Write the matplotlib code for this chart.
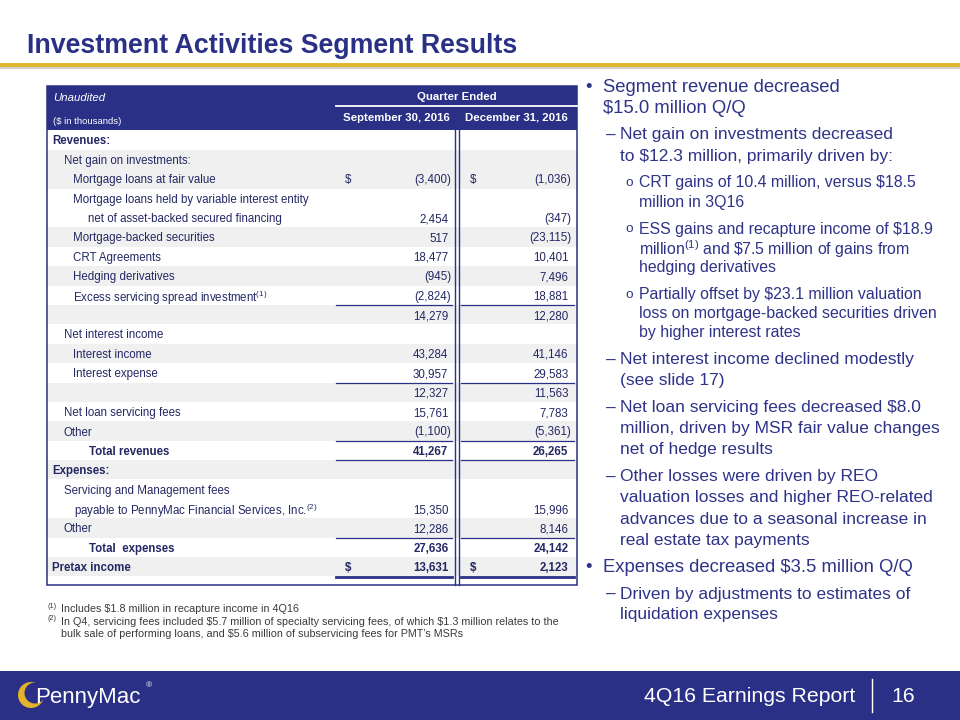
import matplotlib
matplotlib.use("Agg")
import matplotlib.pyplot as plt
from matplotlib.patches import Rectangle, Circle

plt.rcParams['font.family'] = 'Liberation Sans'
plt.rcParams['mathtext.fontset'] = 'custom'
plt.rcParams['mathtext.rm'] = 'Liberation Sans'
plt.rcParams['mathtext.it'] = 'Liberation Sans:italic'
plt.rcParams['mathtext.bf'] = 'Liberation Sans:bold'

NAVY = '#2B3087'
GOLD = '#E2B42B'
TBL_TXT = '#232863'
RIGHT_TXT = '#2E3388'
BAND = '#F0F0F0'
NOTE = '#3A3A3A'

# ---- data ----
title = "Investment Activities Segment Results"
col_headers = ["September 30, 2016", "December 31, 2016"]

row_labels = [
    "Revenues:",
    "Net gain on investments:",
    "Mortgage loans at fair value",
    "Mortgage loans held by variable interest entity",
    "net of asset-backed secured financing",
    "Mortgage-backed securities",
    "CRT Agreements",
    "Hedging derivatives",
    r"Excess servicing spread investment$^{(1)}$",
    "",
    "Net interest income",
    "Interest income",
    "Interest expense",
    "",
    "Net loan servicing fees",
    "Other",
    "Total revenues",
    "Expenses:",
    "Servicing and Management fees",
    r"payable to PennyMac Financial Services, Inc.$^{(2)}$",
    "Other",
    "Total  expenses",
    "Pretax income",
]
sep_2016 = [None, None, -3400, None, 2454, 517, 18477, -945, -2824, 14279,
            None, 43284, 30957, 12327, 15761, -1100, 41267,
            None, None, 15350, 12286, 27636, 13631]
dec_2016 = [None, None, -1036, None, -347, -23115, 10401, 7496, 18881, 12280,
            None, 41146, 29583, 11563, 7783, -5361, 26265,
            None, None, 15996, 8146, 24142, 2123]

# styling per row
indent = [52, 64, 73, 73, 88, 73, 73, 73, 73, 52, 64, 73, 73, 52, 64, 64, 89,
          52, 64, 74, 64, 89, 52]
bold_rows = {0, 16, 17, 21, 22}
dollar_rows = {2, 22}
gray_rows = [1, 2, 5, 7, 9, 11, 13, 15, 17, 20, 22]
line_above = [9, 13, 16, 17, 21]

bullets = [
    (1, ["Segment revenue decreased", "$15.0 million Q/Q"]),
    (2, ["Net gain on investments decreased", "to $12.3 million, primarily driven by:"]),
    (3, ["CRT gains of 10.4 million, versus $18.5", "million in 3Q16"]),
    (3, ["ESS gains and recapture income of $18.9",
         r"million$^{(1)}$ and \$7.5 million of gains from", "hedging derivatives"]),
    (3, ["Partially offset by $23.1 million valuation",
         "loss on mortgage-backed securities driven", "by higher interest rates"]),
    (2, ["Net interest income declined modestly", "(see slide 17)"]),
    (2, ["Net loan servicing fees decreased $8.0",
         "million, driven by MSR fair value changes", "net of hedge results"]),
    (2, ["Other losses were driven by REO", "valuation losses and higher REO-related",
         "advances due to a seasonal increase in", "real estate tax payments"]),
    (1, ["Expenses decreased $3.5 million Q/Q"]),
    (2, ["Driven by adjustments to estimates of", "liquidation expenses"]),
]

note_marks = ["(1)", "(2)", ""]
note_lines = [
    "Includes $1.8 million in recapture income in 4Q16",
    "In Q4, servicing fees included $5.7 million of specialty servicing fees, of which $1.3 million relates to the",
    "bulk sale of performing loans, and $5.6 million of subservicing fees for PMT\u2019s MSRs",
]


def acct(v):
    return f"({abs(v):,})" if v < 0 else f"{v:,}"


fig = plt.figure(figsize=(9.6, 7.2), dpi=100)
ax = fig.add_axes([0, 0, 1, 1])
ax.set_xlim(0, 960)
ax.set_ylim(720, 0)
ax.axis('off')

# title + gold rule
ax.text(27, 53, title, fontsize=19.3, weight='bold', color=NAVY, va='baseline')
ax.plot([0, 960], [67.5, 67.5], color='#CFCFCF', lw=1.5, solid_capstyle='butt')
ax.plot([0, 960], [64.5, 64.5], color=GOLD, lw=2.8, solid_capstyle='butt')

# ---- table ----
TL, TR, TOP, BOT = 47, 577, 86, 585
HDR_BOT = 130.3
ROW_H = 19.4
C1_L, C1_R, C2_L, C2_R = 336, 451, 461, 571
FS = 8.3

ax.add_patch(Rectangle((TL, TOP), TR - TL, HDR_BOT - TOP, fc=NAVY, ec='none'))
for i in gray_rows:
    ax.add_patch(Rectangle((TL, HDR_BOT + i * ROW_H), TR - TL, ROW_H, fc=BAND, ec='none'))

ax.text(53, 97, "Unaudited", color='white', style='italic', fontsize=8.2, va='center_baseline')
ax.text(53, 121, "($ in thousands)", color='white', fontsize=6.8, va='center_baseline')
ax.text(457, 96, "Quarter Ended", color='white', weight='bold', fontsize=8.2,
        ha='center', va='center_baseline')
ax.plot([C1_L, TR], [106, 106], color='white', lw=1.3)
ax.text(396, 117, col_headers[0], color='white', weight='bold', fontsize=8.2,
        ha='center', va='center_baseline')
ax.text(516.5, 117, col_headers[1], color='white', weight='bold', fontsize=8.2,
        ha='center', va='center_baseline')

for i, lab in enumerate(row_labels):
    yc = HDR_BOT + (i + 0.5) * ROW_H
    w = 'bold' if i in bold_rows else 'normal'
    if lab:
        ax.text(indent[i], yc, lab, color=TBL_TXT, fontsize=FS, weight=w,
                va='center_baseline')
    for vals, left, right in ((sep_2016, C1_L, C1_R), (dec_2016, C2_L, C2_R)):
        v = vals[i]
        if v is None:
            continue
        xr = right if v < 0 else right - 2.6
        ax.text(xr, yc, acct(v), color=TBL_TXT, fontsize=FS, weight=w,
                ha='right', va='center_baseline')
        if i in dollar_rows:
            ax.text(left + 9, yc, "$", color=TBL_TXT, fontsize=FS, weight=w,
                    va='center_baseline')

for i in line_above:
    y = HDR_BOT + i * ROW_H
    ax.plot([C1_L, 452], [y, y], color=NAVY, lw=0.9)
    ax.plot([C2_L, 574], [y, y], color=NAVY, lw=0.9)
y = HDR_BOT + len(row_labels) * ROW_H
ax.plot([C1_L, 452], [y, y], color=NAVY, lw=2.0)
ax.plot([C2_L, 574], [y, y], color=NAVY, lw=2.0)

for x in (454.5, 458.5):
    ax.plot([x, x], [HDR_BOT, BOT], color=NAVY, lw=1.0)
ax.add_patch(Rectangle((TL, TOP), TR - TL, BOT - TOP, fill=False, ec=NAVY, lw=1.1))

# footnotes
for k, (m, line) in enumerate(zip(note_marks, note_lines)):
    yy = 608 + k * 12.7
    if m:
        ax.text(47, yy - 3, m, color=NOTE, fontsize=5.2, va='center_baseline')
    ax.text(61, yy, line, color=NOTE, fontsize=7.75, va='center_baseline',
            parse_math=False)

# ---- bullet text ----
size = {1: 13.3, 2: 12.5, 3: 11.4}
line_h = {1: 21.5, 2: 21.0, 3: 19.2}
mark = {1: ("\u2022", 589), 2: ("\u2013", 611), 3: ("o", 629)}
text_x = {1: 603, 2: 620, 3: 639}
y = 85
for k, (lvl, lines) in enumerate(bullets):
    sym, sx = mark[lvl]
    ax.text(sx, y, sym, color=RIGHT_TXT, fontsize=size[lvl] * (0.85 if lvl == 3 else 1),
            ha='center', va='center_baseline')
    for j, line in enumerate(lines):
        ax.text(text_x[lvl], y + j * line_h[lvl], line, color=RIGHT_TXT,
                fontsize=size[lvl], va='center_baseline')
    y = y + (len(lines) - 1) * line_h[lvl] + 27

# ---- footer ----
ax.add_patch(Rectangle((0, 671), 960, 49, fc=NAVY, ec='none'))
ax.add_patch(Circle((31, 695), 13, fc=GOLD, ec='none'))
ax.add_patch(Circle((35, 693), 10.5, fc=NAVY, ec='none'))
ax.text(35, 703, "PennyMac", color='white', fontsize=16, va='baseline')
ax.text(146, 686, "\u00ae", color='white', fontsize=6, va='center')
ax.text(855, 694, "4Q16 Earnings Report", color='white', fontsize=15.3,
        ha='right', va='center_baseline')
ax.plot([872, 872], [679, 712], color='white', lw=1.0)
ax.text(903, 694, "16", color='white', fontsize=15.3, ha='center', va='center_baseline')

fig.savefig("out.png", dpi=100)
